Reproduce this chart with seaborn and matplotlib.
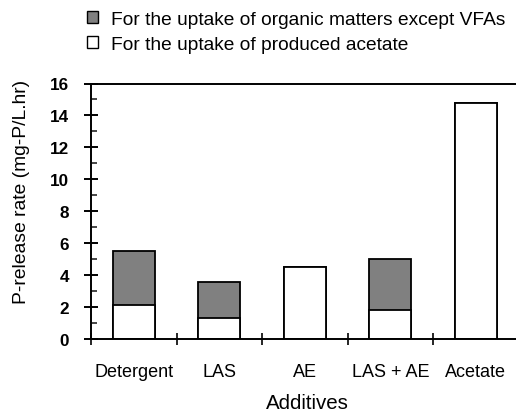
import matplotlib
matplotlib.use("Agg")
import matplotlib.pyplot as plt
import seaborn as sns
import pandas as pd
from matplotlib.patches import Patch
from matplotlib.ticker import MultipleLocator, FixedLocator

categories = ["Detergent", "LAS", "AE", "LAS + AE", "Acetate"]
acetate_uptake = [2.14, 1.33, 4.54, 1.81, 14.77]
organic_uptake = [3.40, 2.25, 0.0, 3.17, 0.0]
series_labels = ["For the uptake of organic matters except VFAs",
                 "For the uptake of produced acetate"]
y_ticks = [0, 2, 4, 6, 8, 10, 12, 14, 16]

sns.set_style("ticks")
plt.rcParams["font.family"] = ["Liberation Sans", "DejaVu Sans"]
plt.rcParams["text.color"] = "black"
plt.rcParams["axes.labelcolor"] = "black"

df = pd.DataFrame({
    "Additive": categories,
    "acetate": acetate_uptake,
    "total": [a + o for a, o in zip(acetate_uptake, organic_uptake)],
})

fig = plt.figure(figsize=(5.16, 4.14), dpi=100)
ax = fig.add_axes([91 / 516, 1 - 340 / 414, (518.5 - 91) / 516, (340 - 84.5) / 414])

gray = "#808080"
sns.barplot(data=df, x="Additive", y="total", color=gray, width=0.49,
            edgecolor="black", linewidth=1.3, ax=ax, saturation=1)
sns.barplot(data=df, x="Additive", y="acetate", color="white", width=0.49,
            edgecolor="black", linewidth=1.3, ax=ax, saturation=1)

ax.set_xlim(-0.5, 4.5)
ax.set_ylim(0, 16)
ax.spines["right"].set_visible(False)
for s in ["left", "bottom", "top"]:
    ax.spines[s].set_linewidth(1.4)
    ax.spines[s].set_color("black")

# y ticks
ax.yaxis.set_major_locator(FixedLocator(y_ticks))
ax.set_yticklabels([str(v) for v in y_ticks], fontweight="bold")
ax.yaxis.set_minor_locator(MultipleLocator(1))
ax.tick_params(axis="y", which="major", direction="inout", length=9.4, width=1.4,
               labelsize=12.3, pad=11, colors="black")
ax.tick_params(axis="y", which="minor", direction="in", length=4, width=1.2)

# x ticks: boundaries as major (no labels), centers as minor with labels
ax.xaxis.set_major_locator(FixedLocator([-0.5, 0.5, 1.5, 2.5, 3.5, 4.5]))
ax.xaxis.set_major_formatter(plt.NullFormatter())
ax.xaxis.set_minor_locator(FixedLocator(range(len(categories))))
ax.set_xticks(range(len(categories)), categories, minor=True)
ax.tick_params(axis="x", which="major", direction="inout", length=8.6, width=1.4)
ax.tick_params(axis="x", which="minor", length=0, labelsize=13, pad=17, colors="black")

ax.set_xlabel("")
ax.set_ylabel("")
fig.text(307 / 516, 1 - 404 / 414, "Additives", ha="center", va="center", fontsize=14.8)
fig.text(21.5 / 516, 1 - 191.5 / 414, "P-release rate (mg-P/L.hr)", rotation=90,
         ha="center", va="center", fontsize=13.9)

handles = [Patch(facecolor=gray, edgecolor="black", linewidth=1.0),
           Patch(facecolor="white", edgecolor="black", linewidth=1.0)]
fig.legend(handles, series_labels, loc="upper left", bbox_to_anchor=(79 / 516, 1 - 4 / 414),
           frameon=False, fontsize=13.8, handlelength=0.57, handleheight=0.57,
           handletextpad=0.7, labelspacing=0.42, borderaxespad=0.2, borderpad=0.2)

fig.savefig("out.png", dpi=100)
